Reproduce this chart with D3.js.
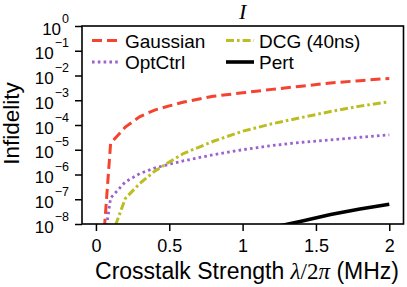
<!DOCTYPE html>
<html>
<head>
<meta charset="utf-8">
<script src="https://cdn.jsdelivr.net/npm/d3@7"></script>
<style>
  body { margin: 0; background: #fff; }
  text { font-family: "Liberation Sans", Arial, sans-serif; }
</style>
</head>
<body>
<div id="app"></div>
<script>
// crosstalk strength lambda/2pi (MHz)
const lambdas = [0.05, 0.1, 0.2, 0.3, 0.4, 0.5, 0.6, 0.8, 1.0, 1.2, 1.4, 1.6, 1.8, 2.0]
const gaussian = [1.6e-9, 1.8e-5, 8.3e-5, 2.2e-4, 4.0e-4, 5.9e-4, 8.5e-4, 1.45e-3, 2.0e-3, 2.75e-3, 3.7e-3, 5.0e-3, 6.2e-3, 7.6e-3]
const optctrl = [1e-9, 1.12e-7, 5.0e-7, 1.1e-6, 1.82e-6, 2.6e-6, 3.6e-6, 6.3e-6, 1.0e-5, 1.48e-5, 2.0e-5, 2.5e-5, 3.2e-5, 4.0e-5]
const dcg = [1e-10, 2.5e-9, 1.07e-7, 4.4e-7, 1.35e-6, 3.2e-6, 7.2e-6, 2.2e-5, 5.6e-5, 1.12e-4, 2.0e-4, 3.5e-4, 5.8e-4, 8.7e-4]
const pert = [4e-14, 4e-13, 6e-12, 3e-11, 1e-10, 2.5e-10, 5e-10, 1.6e-9, 3.8e-9, 7.2e-9, 1.3e-8, 2.4e-8, 4.0e-8, 6.3e-8]

const xTicks = [0, 0.5, 1, 1.5, 2]
const xTickLabels = ["0", "0.5", "1", "1.5", "2"]
const yExps = [0, -1, -2, -3, -4, -5, -6, -7, -8]

const series = [
  {name: "Gaussian", vals: gaussian, color: "#f4432f", dash: "10,5", width: 3, col: 0, row: 0},
  {name: "OptCtrl", vals: optctrl, color: "#9a62cc", dash: "2.6,3.2", width: 2.8, col: 0, row: 1},
  {name: "DCG (40ns)", vals: dcg, color: "#bcbd22", dash: "8,3,2.6,3", width: 3, col: 1, row: 0},
  {name: "Pert", vals: pert, color: "#000", dash: null, width: 3.6, col: 1, row: 1}
]

const w = 407, h = 287
const padL = 82, padR = 403.5, padT = 26, padB = 224

const svg = d3.select("#app").append("svg")
  .attr("width", w)
  .attr("height", h)

const x = d3.scaleLinear().domain([-0.095, 2.097]).range([padL, padR])
const y = d3.scaleLog().domain([1e-8, 1]).range([padB, padT])

svg.append("defs").append("clipPath").attr("id", "clip")
  .append("rect")
  .attr("x", padL).attr("y", padT)
  .attr("width", padR - padL).attr("height", padB - padT)

// x axis
const xAxis = d3.axisBottom(x)
  .tickValues(xTicks)
  .tickSize(7)
  .tickPadding(8)
  .tickFormat((d, i) => xTickLabels[i])
const gx = svg.append("g")
  .attr("transform", "translate(0," + padB + ")")
  .call(xAxis)
gx.select(".domain").remove()
gx.selectAll("line").attr("stroke-width", 1.5)
gx.selectAll("text")
  .attr("font-size", 18)
  .attr("fill", "#000")
  .attr("font-family", "Liberation Sans, Arial, sans-serif")

// y axis, labels drawn as 10^n
const yAxis = d3.axisLeft(y)
  .tickValues(yExps.map(e => Math.pow(10, e)))
  .tickSize(7)
  .tickFormat("")
const gy = svg.append("g")
  .attr("transform", "translate(" + padL + ",0)")
  .call(yAxis)
gy.select(".domain").remove()
gy.selectAll("line").attr("stroke-width", 1.5)

yExps.forEach(e => {
  const ty = y(Math.pow(10, e))
  const t = svg.append("text")
    .attr("x", 69)
    .attr("y", ty + 8.5)
    .attr("text-anchor", "end")
    .attr("font-size", 17)
  t.append("tspan").text("10")
  t.append("tspan")
    .attr("font-size", 12.5)
    .attr("dy", -12)
    .attr("dx", 1)
    .text(e === 0 ? "0" : "\u2212" + Math.abs(e))
})

// lines
const line = d3.line()
  .x((d, i) => x(lambdas[i]))
  .y(d => y(d))

const lines = svg.append("g").attr("clip-path", "url(#clip)")
series.forEach(s => {
  lines.append("path")
    .datum(s.vals)
    .attr("d", line)
    .attr("fill", "none")
    .attr("stroke", s.color)
    .attr("stroke-width", s.width)
    .attr("stroke-dasharray", s.dash)
})

// frame
svg.append("rect")
  .attr("x", padL).attr("y", padT)
  .attr("width", padR - padL).attr("height", padB - padT)
  .attr("fill", "none")
  .attr("stroke", "#000")
  .attr("stroke-width", 1.6)

// legend
const legX = [92, 226]
const legY = [40.5, 62]
series.forEach(s => {
  const lx = legX[s.col], ly = legY[s.row]
  svg.append("line")
    .attr("x1", lx).attr("x2", lx + 28)
    .attr("y1", ly).attr("y2", ly)
    .attr("stroke", s.color)
    .attr("stroke-width", s.width)
    .attr("stroke-dasharray", s.dash)
  svg.append("text")
    .attr("x", lx + 33)
    .attr("y", ly + 7)
    .attr("font-size", 19)
    .text(s.name)
})

// title
svg.append("text")
  .attr("x", (padL + padR) / 2)
  .attr("y", 19)
  .attr("text-anchor", "middle")
  .attr("font-style", "italic")
  .attr("font-size", 22)
  .style("font-family", "Liberation Serif, serif")
  .text("I")

// axis labels
const xl = svg.append("text")
  .attr("x", 247)
  .attr("y", 279)
  .attr("text-anchor", "middle")
  .attr("font-size", 23)
xl.append("tspan").text("Crosstalk Strength ")
xl.append("tspan").style("font-family", "Liberation Serif, serif").attr("font-style", "italic").text("\u03bb")
xl.append("tspan").style("font-family", "Liberation Serif, serif").text("/2")
xl.append("tspan").style("font-family", "Liberation Serif, serif").attr("font-style", "italic").text("\u03c0")
xl.append("tspan").text(" (MHz)")

svg.append("text")
  .attr("transform", "translate(19,123.5) rotate(-90)")
  .attr("text-anchor", "middle")
  .attr("font-size", 22.5)
  .text("Infidelity")
</script>
</body>
</html>
